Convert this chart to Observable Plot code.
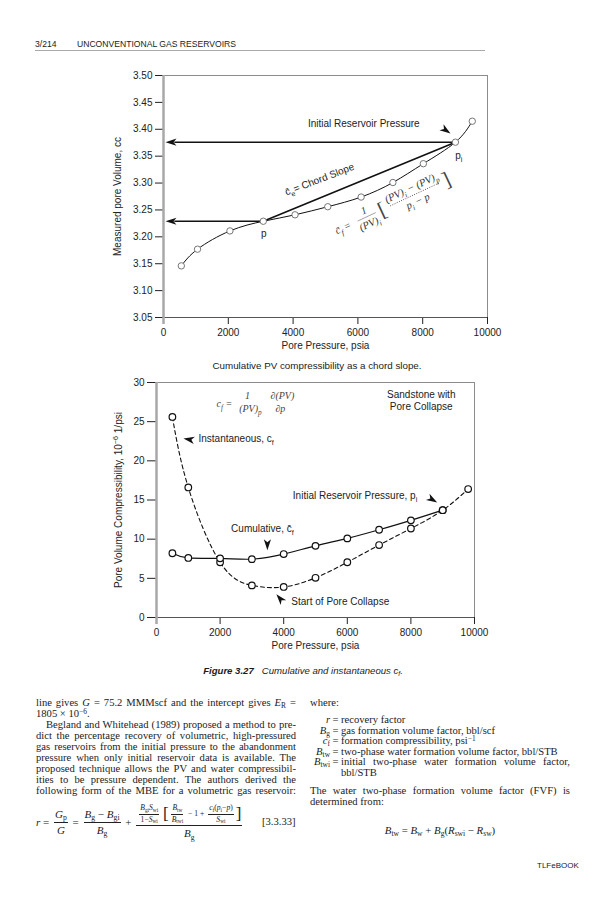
<!DOCTYPE html>
<html>
<head>
<meta charset="utf-8">
<script src="https://cdn.jsdelivr.net/npm/d3@7"></script>
<script src="https://cdn.jsdelivr.net/npm/@observablehq/plot@0.6"></script>
<style>
  html, body { margin:0; padding:0; background:#fff; }
  #page { position:relative; width:604px; height:900px; overflow:hidden; background:#fff; color:#1b1b1b; font-family:"Liberation Sans", Arial, sans-serif; }
  .abs { position:absolute; white-space:nowrap; }
  .chart { position:absolute; left:0; }
  .txt { position:absolute; font-family:"Liberation Serif","DejaVu Serif",serif; font-size:10.6px; line-height:11px; height:11px; white-space:nowrap; }
  .just { display:block; white-space:nowrap; overflow:visible; }
  sub, sup { font-size:70%; line-height:0; position:relative; vertical-align:baseline; }
  sub { top:0.3em; } sup { top:-0.45em; }
  .fr { display:inline-flex; flex-direction:column; align-items:center; vertical-align:middle; margin:0 2px; line-height:1.15; }
  .fr > .n { border-bottom:0.8px solid #222; padding:0 1px 1px; }
  .fr > .d { padding:1px 1px 0; }
  .def { position:absolute; left:300px; display:flex; font-family:"Liberation Serif","DejaVu Serif",serif; font-size:10.6px; line-height:11px; height:11px; white-space:nowrap; }
  .def .s { width:30px; text-align:right; }
  .def .e { width:11px; text-align:center; }
  .def .t { width:229px; }
</style>
</head>
<body>
<div id="page">
  <div class="abs" style="left:35px; top:39px; font-size:8.6px;">3/214</div>
  <div class="abs" style="left:77px; top:39px; font-size:8.6px;">UNCONVENTIONAL GAS RESERVOIRS</div>
  <div class="abs" style="left:35px; top:50px; width:450px; height:0; border-top:1.6px solid #a9a9a9;"></div>

  <div id="chart1" class="chart" style="top:60px;"></div>
  <div class="abs" style="left:317px; top:360px; transform:translateX(-50%); font-size:9.8px;">Cumulative PV compressibility as a chord slope.</div>

  <div id="chart2" class="chart" style="top:372px;"></div>
  <div class="abs" style="left:303px; top:665px; transform:translateX(-50%); font-size:9.6px;"><b><i>Figure 3.27</i></b>&nbsp;&nbsp;&nbsp;<i>Cumulative and instantaneous c<sub>f</sub>.</i></div>

  <!-- left column -->
  <div class="txt just" style="left:36px; top:697px; width:260px;">line gives <i>G</i> = 75.2 MMMscf and the intercept gives <i>E</i><sub>R</sub> =</div>
  <div class="txt" style="left:36px; top:708px;">1805 × 10<sup>−6</sup>.</div>
  <div class="txt just" style="left:36px; top:719px; width:260px; text-indent:10px;">Begland and Whitehead (1989) proposed a method to pre-</div>
  <div class="txt just" style="left:36px; top:730px; width:260px;">dict the percentage recovery of volumetric, high-pressured</div>
  <div class="txt just" style="left:36px; top:741px; width:260px;">gas reservoirs from the initial pressure to the abandonment</div>
  <div class="txt just" style="left:36px; top:752px; width:260px;">pressure when only initial reservoir data is available. The</div>
  <div class="txt just" style="left:36px; top:763px; width:260px;">proposed technique allows the PV and water compressibil-</div>
  <div class="txt just" style="left:36px; top:774px; width:260px;">ities to be pressure dependent. The authors derived the</div>
  <div class="txt just" style="left:36px; top:785px; width:260px;">following form of the MBE for a volumetric gas reservoir:</div>

  <div class="abs" style="left:36px; top:803px; height:38px; display:flex; align-items:center; font-family:'Liberation Serif','DejaVu Serif',serif; font-size:11px;">
    <i>r</i>&nbsp;=&nbsp;<span class="fr"><span class="n"><i>G</i><sub>p</sub></span><span class="d"><i>G</i></span></span>&nbsp;=&nbsp;<span class="fr"><span class="n"><i>B</i><sub>g</sub> − <i>B</i><sub>gi</sub></span><span class="d"><i>B</i><sub>g</sub></span></span>&nbsp;+&nbsp;<span class="fr"><span class="n" style="font-size:7.6px; display:flex; align-items:center;"><span class="fr"><span class="n"><i>B</i><sub>gi</sub><i>S</i><sub>wi</sub></span><span class="d">1−<i>S</i><sub>wi</sub></span></span>&nbsp;<span style="font-size:17px;">[</span><span class="fr"><span class="n"><i>B</i><sub>tw</sub></span><span class="d"><i>B</i><sub>twi</sub></span></span>&nbsp;−&nbsp;1&nbsp;+&nbsp;<span class="fr"><span class="n"><i>c</i><sub>f</sub>(<i>p</i><sub>i</sub>−<i>p</i>)</span><span class="d"><i>S</i><sub>wi</sub></span></span><span style="font-size:17px;">]</span></span><span class="d"><i>B</i><sub>g</sub></span></span>
  </div>
  <div class="abs" style="left:262px; top:816px; font-family:'Liberation Serif','DejaVu Serif',serif; font-size:10.6px;">[3.3.33]</div>

  <!-- right column -->
  <div class="txt" style="left:310px; top:697px;">where:</div>
  <div class="def" style="top:714px;"><span class="s"><i>r</i></span><span class="e">=</span><span class="t">recovery factor</span></div>
  <div class="def" style="top:724.5px;"><span class="s"><i>B</i><sub>g</sub></span><span class="e">=</span><span class="t">gas formation volume factor, bbl/scf</span></div>
  <div class="def" style="top:735px;"><span class="s"><i>c</i><sub>f</sub></span><span class="e">=</span><span class="t">formation compressibility, psi<sup>−1</sup></span></div>
  <div class="def" style="top:745.5px;"><span class="s"><i>B</i><sub>tw</sub></span><span class="e">=</span><span class="t">two-phase water formation volume factor, bbl/STB</span></div>
  <div class="def" style="top:756px;"><span class="s"><i>B</i><sub>twi</sub></span><span class="e">=</span><span class="t just">initial two-phase water formation volume factor,</span></div>
  <div class="def" style="top:766.5px;"><span class="s"></span><span class="e"></span><span class="t">bbl/STB</span></div>
  <div class="txt just" style="left:310px; top:785px; width:260px;">The water two-phase formation volume factor (FVF) is</div>
  <div class="txt" style="left:310px; top:796px;">determined from:</div>
  <div class="abs" style="left:440px; top:824px; transform:translateX(-50%); font-family:'Liberation Serif','DejaVu Serif',serif; font-size:10.8px;"><i>B</i><sub>tw</sub> = <i>B</i><sub>w</sub> + <i>B</i><sub>g</sub>(<i>R</i><sub>swi</sub> − <i>R</i><sub>sw</sub>)</div>

  <div class="abs" style="left:537px; top:861px; font-size:8px;">TLFeBOOK</div>
</div>

<script>
// ---------------- data ----------------
const pressureTicks = [0, 2000, 4000, 6000, 8000, 10000];

// Top chart: measured pore volume vs pore pressure
const pvTicks = [3.05, 3.10, 3.15, 3.20, 3.25, 3.30, 3.35, 3.40, 3.45, 3.50];
const pvPressure = [550, 1050, 2050, 3080, 4060, 5070, 6100, 7080, 8020, 9010, 9530];
const pvVolume   = [3.146, 3.177, 3.211, 3.229, 3.241, 3.256, 3.274, 3.301, 3.336, 3.376, 3.415];
const chordIndex = [3, 9]; // p and p_i

// Bottom chart: pore volume compressibility
const cfTicks = [0, 5, 10, 15, 20, 25, 30];
const instPressure = [500, 1000, 2000, 3000, 4000, 5000, 6000, 7000, 8000, 9000, 9800];
const instCf       = [25.6, 16.6, 7.05, 4.1, 3.9, 5.07, 7.05, 9.25, 11.36, 13.7, 16.4];
const cumPressure  = [500, 1000, 2000, 3000, 4000, 5000, 6000, 7000, 8000, 9000];
const cumCf        = [8.2, 7.6, 7.55, 7.45, 8.1, 9.15, 10.1, 11.2, 12.4, 13.7];

// annotation texts
const chart1Labels = [
  {x: 6182, y: 3.4102, t: "Initial Reservoir Pressure"},
  {x: 9114, y: 3.3512, t: "p_{i}"},
  {x: 3096, y: 3.2057, t: "p"}
];
const chart2Labels = [
  {x: 8326, y: 28.47, t: "Sandstone with", a: "middle"},
  {x: 8326, y: 26.88, t: "Pore Collapse", a: "middle"},
  {x: 1320, y: 22.86, t: "Instantaneous, c_{f}", a: "start"},
  {x: 8200, y: 15.59, t: "Initial Reservoir Pressure, p_{i}", a: "end"},
  {x: 3330, y: 11.26, t: "Cumulative, c\u0304_{f}", a: "middle"},
  {x: 4241, y: 1.99, t: "Start of Pore Collapse", a: "start"}
];
const chart2Formula = [
  {x: 2136, y: 27.32, t: "c_{f} ="},
  {x: 2859, y: 28.34, t: "1"},
  {x: 2953, y: 26.68, t: "(PV)_{p}"},
  {x: 3959, y: 28.34, t: "\u2202(PV)"},
  {x: 3896, y: 26.68, t: "\u2202p"}
];

// ---------------- helpers ----------------
const SANS = "Liberation Sans, Arial, sans-serif";
const SERIF = "Liberation Serif, DejaVu Serif, serif";
function head(angleDeg, len = 11, half = 3.6, notch = 3) {
  const a = angleDeg * Math.PI / 180, c = Math.cos(a), s = Math.sin(a);
  const pts = [[0, 0], [-len, -half], [-len + notch, 0], [-len, half]]
    .map(([u, v]) => [u * c - v * s, u * s + v * c]);
  return {draw(ctx) { ctx.moveTo(pts[0][0], pts[0][1]); for (const p of pts.slice(1)) ctx.lineTo(p[0], p[1]); ctx.closePath(); }};
}
function headMark(x, y, angle) {
  return Plot.dot([{x, y}], {x: "x", y: "y", r: 4, symbol: head(angle), fill: "#111", stroke: "none"});
}
const NS = "http://www.w3.org/2000/svg";
function richify(root) {
  root.querySelectorAll("text").forEach(t => {
    const s = t.textContent;
    if (!/[_^]\{/.test(s)) return;
    const fs = parseFloat(getComputedStyle(t).fontSize) || 10;
    while (t.firstChild) t.removeChild(t.firstChild);
    const re = /([_^])\{([^}]*)\}/g;
    let last = 0, m, cur = 0;
    const add = (str, size, target) => {
      if (!str) return;
      const ts = document.createElementNS(NS, "tspan");
      ts.textContent = str;
      if (size) ts.setAttribute("font-size", size);
      const dy = target - cur;
      if (dy) ts.setAttribute("dy", dy.toFixed(2));
      cur = target;
      t.appendChild(ts);
    };
    while ((m = re.exec(s))) {
      add(s.slice(last, m.index), null, 0);
      add(m[2], (0.72 * fs).toFixed(2), m[1] === "_" ? 0.3 * fs : -0.42 * fs);
      last = re.lastIndex;
    }
    add(s.slice(last), null, 0);
  });
}
function justifyLines() {
  document.querySelectorAll(".just").forEach(el => {
    const cs = getComputedStyle(el);
    const target = parseFloat(cs.width) - (parseFloat(cs.textIndent) || 0);
    const span = document.createElement("span");
    span.style.whiteSpace = "nowrap";
    while (el.firstChild) span.appendChild(el.firstChild);
    el.appendChild(span);
    const w = span.getBoundingClientRect().width;
    const spaces = (span.textContent.match(/ /g) || []).length;
    if (spaces) span.style.wordSpacing = ((target - w) / spaces).toFixed(3) + "px";
  });
}

// ---------------- chart 1 ----------------
const c1 = {width: 604, height: 315, marginLeft: 163, marginRight: 117, marginTop: 15, marginBottom: 58};
const pv = pvPressure.map((p, i) => ({p, v: pvVolume[i]}));
const chord = chordIndex.map(i => pv[i]);
const leftArrows = [
  {y: pv[chordIndex[1]].v, x1: 350, x2: pv[chordIndex[1]].p},
  {y: pv[chordIndex[0]].v, x1: 350, x2: pv[chordIndex[0]].p}
];
// rotated formula layout (local pixel offsets along the rotated baseline)
const plotW1 = c1.width - c1.marginLeft - c1.marginRight, plotH1 = c1.height - c1.marginTop - c1.marginBottom;
const toData1 = (px, py) => ({x: (px - c1.marginLeft) / plotW1 * 10000, y: 3.5 - (py - c1.marginTop) / plotH1 * 0.45});
const F1 = {ax: 339, ay: 169, theta: -25};
function rp(u, v) {
  const t = F1.theta * Math.PI / 180;
  return toData1(F1.ax + u * Math.cos(t) - v * Math.sin(t), F1.ay + u * Math.sin(t) + v * Math.cos(t));
}
const formulaText = [
  {...rp(4, 0), t: "c\u0304_{f} ="},
  {...rp(30, -7), t: "1"},
  {...rp(30, 7.5), t: "(PV)_{i}"},
  {...rp(83, -7.5), t: "(PV)_{i} \u2212 (PV)_{p}"},
  {...rp(83, 7.5), t: "p_{i} \u2212 p"}
];
const formulaBrackets = [{...rp(47, 0), t: "["}, {...rp(118, 0), t: "]"}];
const bar1 = [{a: rp(20, 0), b: rp(40, 0)}];
const bar2 = [{a: rp(56, 0), b: rp(110, 0)}];
const chordLabel = [{x: 4815, y: 3.3066, t: "c\u0304_{e}= Chord Slope"}];

const chart1 = Plot.plot({
  ...c1,
  style: {fontFamily: SANS, fontSize: "10px", color: "#222", background: "transparent", overflow: "visible"},
  x: {domain: [0, 10000], ticks: pressureTicks, tickSize: 7, tickPadding: 4, tickFormat: d => String(d), label: null},
  y: {domain: [3.05, 3.5], ticks: pvTicks, tickSize: 8, tickPadding: 3, tickFormat: d => d.toFixed(2), label: null},
  marks: [
    Plot.ruleY([3.5], {stroke: "#8c8c8c", strokeWidth: 1}),
    Plot.ruleX([10000], {stroke: "#8c8c8c", strokeWidth: 1}),
    Plot.ruleY([3.05], {stroke: "#555", strokeWidth: 1}),
    Plot.ruleX([0], {stroke: "#a8a8a8", strokeWidth: 2.5, insetBottom: -7}),
    Plot.line(pv, {x: "p", y: "v", curve: "natural", stroke: "#111", strokeWidth: 1}),
    Plot.line(chord, {x: "p", y: "v", stroke: "#111", strokeWidth: 1.6}),
    Plot.ruleY(leftArrows, {y: "y", x1: "x1", x2: "x2", stroke: "#111", strokeWidth: 1.6}),
    headMark(62, leftArrows[0].y, 180),
    headMark(62, leftArrows[1].y, 180),
    headMark(8858, 3.392, 35),
    Plot.dot(pv, {x: "p", y: "v", r: 3.2, fill: "white", stroke: "#777", strokeWidth: 1}),
    Plot.text(chart1Labels, {x: "x", y: "y", text: "t", fontSize: 10, fill: "#222"}),
    Plot.text(chordLabel, {x: "x", y: "y", text: "t", rotate: -21, fontSize: 10, fill: "#222"}),
    Plot.text(formulaText, {x: "x", y: "y", text: "t", rotate: F1.theta, fontFamily: SERIF, fontStyle: "italic", fontSize: 10.5, fill: "#333"}),
    Plot.text(formulaBrackets, {x: "x", y: "y", text: "t", rotate: F1.theta, fontFamily: SERIF, fontSize: 21, fill: "#444"}),
    Plot.link(bar1, {x1: d => d.a.x, y1: d => d.a.y, x2: d => d.b.x, y2: d => d.b.y, stroke: "#666", strokeWidth: 0.6}),
    Plot.link(bar2, {x1: d => d.a.x, y1: d => d.a.y, x2: d => d.b.x, y2: d => d.b.y, stroke: "#333", strokeWidth: 0.9, strokeDasharray: "0.9,1.5"}),
    Plot.text(["Pore Pressure, psia"], {text: d => d, frameAnchor: "bottom", dy: 31, fontSize: 10, fill: "#222"}),
    Plot.text(["Measured pore Volume, cc"], {text: d => d, frameAnchor: "left", textAnchor: "middle", dx: -46, rotate: -90, fontSize: 10, fill: "#222"})
  ]
});

// ---------------- chart 2 ----------------
const c2 = {width: 604, height: 310, marginLeft: 156, marginRight: 130, marginTop: 10, marginBottom: 65};
const inst = instPressure.map((p, i) => ({p, c: instCf[i]}));
const cum = cumPressure.map((p, i) => ({p, c: cumCf[i]}));
const labelMark = anchor => Plot.text(chart2Labels.filter(d => d.a === anchor), {x: "x", y: "y", text: "t", textAnchor: anchor, fontSize: 10, fill: "#222"});

const chart2 = Plot.plot({
  ...c2,
  style: {fontFamily: SANS, fontSize: "10px", color: "#222", background: "transparent", overflow: "visible"},
  x: {domain: [0, 10000], ticks: pressureTicks, tickSize: 7, tickPadding: 4, tickFormat: d => String(d), label: null},
  y: {domain: [0, 30], ticks: cfTicks, tickSize: 9, tickPadding: 3, tickFormat: d => String(d), label: null},
  marks: [
    Plot.ruleY([30], {stroke: "#8c8c8c", strokeWidth: 1}),
    Plot.ruleX([10000], {stroke: "#8c8c8c", strokeWidth: 1}),
    Plot.ruleY([0], {stroke: "#555", strokeWidth: 1}),
    Plot.ruleX([0], {stroke: "#a8a8a8", strokeWidth: 2.5, insetBottom: -7}),
    Plot.line(inst, {x: "p", y: "c", curve: "natural", stroke: "#111", strokeWidth: 1.1, strokeDasharray: "4,3"}),
    Plot.line(cum, {x: "p", y: "c", curve: "natural", stroke: "#111", strokeWidth: 1.2}),
    Plot.dot(inst, {x: "p", y: "c", r: 3.3, fill: "white", stroke: "#111", strokeWidth: 1.2}),
    Plot.dot(cum, {x: "p", y: "c", r: 3.3, fill: "white", stroke: "#111", strokeWidth: 1.2}),
    headMark(848, 22.86, 190),
    headMark(8828, 14.69, 30),
    headMark(3487, 8.58, 90),
    headMark(3770, 2.97, -130),
    labelMark("start"),
    labelMark("middle"),
    labelMark("end"),
    Plot.text(chart2Formula, {x: "x", y: "y", text: "t", fontFamily: SERIF, fontStyle: "italic", fontSize: 10, fill: "#444"}),
    Plot.text(["Pore Pressure, psia"], {text: d => d, frameAnchor: "bottom", dy: 31, fontSize: 10, fill: "#222"}),
    Plot.text(["Pore Volume Compressibility, 10^{\u22126} 1/psi"], {text: d => d, frameAnchor: "left", textAnchor: "middle", dx: -38, rotate: -90, fontSize: 10, fill: "#222"})
  ]
});

document.getElementById("chart1").appendChild(chart1);
document.getElementById("chart2").appendChild(chart2);
richify(chart1);
richify(chart2);
justifyLines();
</script>
</body>
</html>
